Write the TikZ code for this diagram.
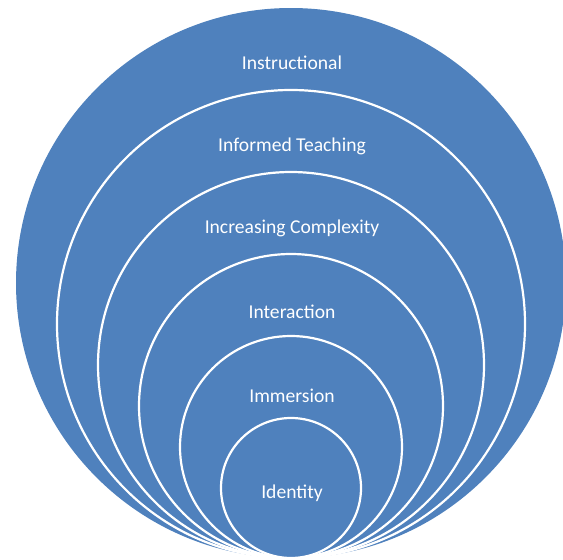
\documentclass[tikz,border=0pt]{standalone}
\usepackage{fontspec}
\setmainfont{Carlito}
\definecolor{ringblue}{RGB}{79,129,189}
\tikzset{
  ring/.style={circle, draw=white, fill=ringblue, line width=2.2pt, inner sep=0pt},
  outerring/.style={circle, fill=ringblue, inner sep=0pt},
  ringlabel/.style={text=white, font=\fontsize{19.6}{22}\selectfont, inner sep=0pt}
}
\begin{document}
\begin{tikzpicture}[x=1pt, y=-1pt]
  \useasboundingbox (0,0) rectangle (563,560);

  \node[outerring, minimum size=550pt] (instr) at (291,283) {};
  \node[ring, minimum size=468pt] (inform) at (291,324) {};
  \node[ring, minimum size=386pt] (incr) at (291,365) {};
  \node[ring, minimum size=304pt] (inter) at (291,406) {};
  \node[ring, minimum size=222pt] (immer) at (291,447) {};
  \node[ring, minimum size=140pt] (ident) at (291,488) {};

  \node[ringlabel] (linstr) at (292,63) {Instructional};
  \node[ringlabel] (linform) at (292,146) {Informed Teaching};
  \node[ringlabel] (lincr) at (292,228) {Increasing Complexity};
  \node[ringlabel] (linter) at (292,312) {Interaction};
  \node[ringlabel] (limmer) at (292,396) {Immersion};
  \node[ringlabel] (lident) at (292,493) {Identity};
\end{tikzpicture}
\end{document}
